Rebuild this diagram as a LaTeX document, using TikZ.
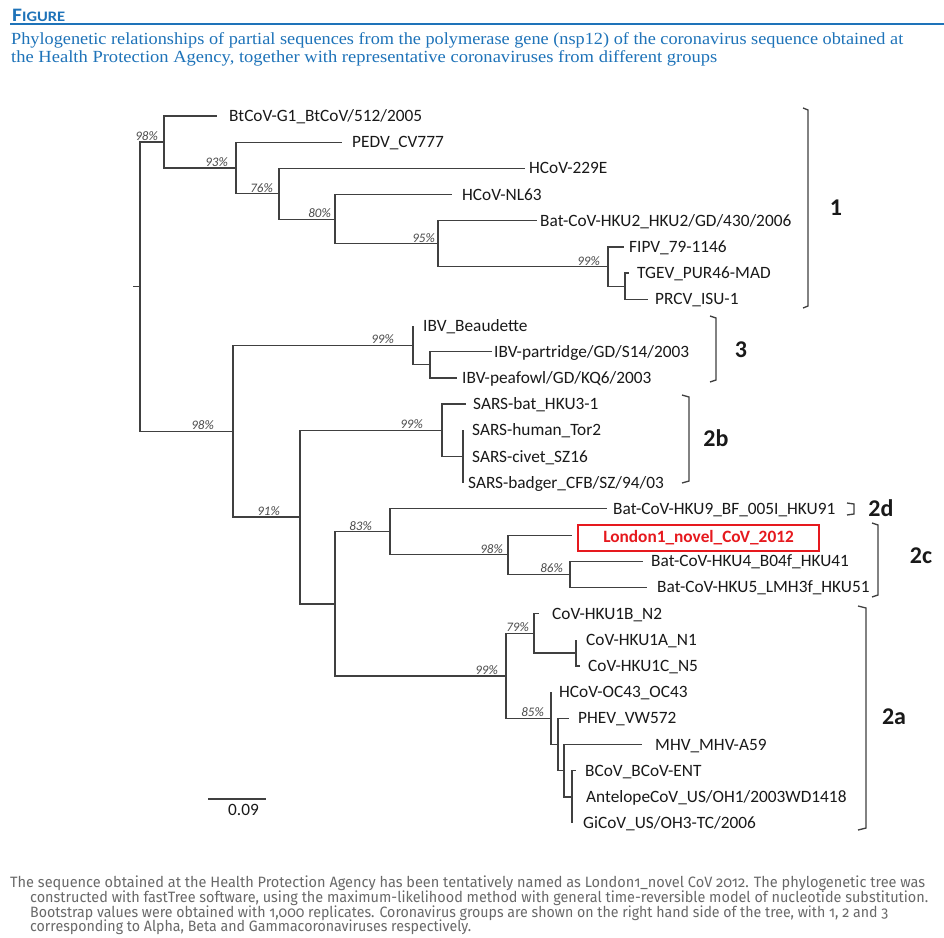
\documentclass[tikz,border=0pt]{standalone}
\usepackage{fontspec}
\usepackage{graphicx}
\setmainfont{Carlito}
\newfontfamily\capfont{Liberation Serif}
\newfontfamily\footfont[Numbers=OldStyle]{Fira Sans}
\definecolor{figblue}{RGB}{30,115,185}
\definecolor{treeline}{RGB}{64,64,64}
\definecolor{txt}{RGB}{25,25,25}
\definecolor{footgray}{RGB}{105,105,105}
\definecolor{novred}{RGB}{230,25,30}
\begin{document}
\begin{tikzpicture}[x=1pt,y=-1pt,
  br/.style={draw=treeline, line width=1.25pt},
  lf/.style={anchor=west, inner sep=0pt, text height=11pt, text depth=0pt, font=\fontsize{17.3}{20}\selectfont, text=txt},
  bs/.style={anchor=base east, inner sep=0pt, font=\fontsize{13}{15}\selectfont\itshape, text=black!70},
  grp/.style={inner sep=0pt, font=\fontsize{24}{28}\selectfont\bfseries, text=txt},
  brk/.style={draw=black!75, line width=1.3pt, line join=miter},
  hdr/.style={anchor=base west, inner sep=0pt, text=figblue},
  ftr/.style={anchor=base west, inner sep=0pt, text=footgray}]
\useasboundingbox[fill=white] (0,0) rectangle (944,937);

% ---------- header ----------
\node[hdr] (hd) at (12,21) {\resizebox{53pt}{\height}{\bfseries\fontsize{19}{22}\selectfont F\fontsize{14.5}{17}\selectfont IGURE}};
\coordinate (hl1) at (10,23.8);
\coordinate (hl2) at (944,23.8);
\draw[figblue, line width=1.6pt] (hl1) -- (hl2);
\node[hdr] (c1) at (11,44) {\resizebox{892pt}{\height}{\capfont\fontsize{17}{20}\selectfont Phylogenetic relationships of partial sequences from the polymerase gene (nsp12) of the coronavirus sequence obtained at}};
\node[hdr] (c2) at (11,62.5) {\resizebox{706pt}{\height}{\capfont\fontsize{17}{20}\selectfont the Health Protection Agency, together with representative coronaviruses from different groups}};

% ---------- internal nodes ----------
\coordinate (root) at (140,286.6);
\coordinate (rt) at (133,286.6);
\coordinate (n1) at (164,142.0);
\coordinate (n2) at (236,168.0);
\coordinate (n3) at (279,193.8);
\coordinate (n4) at (335,219.2);
\coordinate (n5) at (438,243.7);
\coordinate (n6) at (608,266.6);
\coordinate (n7) at (625,286.2);
\coordinate (m1) at (233,431.2);
\coordinate (m2) at (413,345.2);
\coordinate (i2) at (430,364.8);
\coordinate (m3) at (300,517.1);
\coordinate (s1) at (442,430.3);
\coordinate (s2) at (463,456.5);
\coordinate (m4) at (335,603.9);
\coordinate (k1) at (390,531.8);
\coordinate (k2) at (508,554.7);
\coordinate (k3) at (570,574.3);
\coordinate (a1) at (506,675.9);
\coordinate (a2) at (534,633.3);
\coordinate (a3) at (576,652.9);
\coordinate (a4) at (551,718.4);
\coordinate (a5) at (558,744.6);
\coordinate (a6) at (564,770.8);
\coordinate (a7) at (572,797.0);

% ---------- leaf ends ----------
\coordinate (e0) at (217,116.0);
\coordinate (e1) at (342,142.2);
\coordinate (e2) at (525,168.4);
\coordinate (e3) at (452,194.6);
\coordinate (e4) at (537,220.8);
\coordinate (e5) at (624,246.9);
\coordinate (e6) at (629,273.1);
\coordinate (e7) at (648,299.3);
\coordinate (e8) at (413,325.5);
\coordinate (e9) at (492,351.7);
\coordinate (e10) at (457,377.9);
\coordinate (e11) at (466,404.1);
\coordinate (e12) at (463,430.3);
\coordinate (e13) at (463,456.5);
\coordinate (e14) at (463,482.7);
\coordinate (e15) at (607,508.8);
\coordinate (e16) at (572,535.8);
\coordinate (e17) at (643,561.2);
\coordinate (e18) at (647,587.4);
\coordinate (e19) at (539,613.6);
\coordinate (e20) at (576,639.8);
\coordinate (e21) at (580,666.0);
\coordinate (e22) at (551,692.2);
\coordinate (e23) at (569,718.4);
\coordinate (e24) at (642,744.6);
\coordinate (e25) at (576,770.8);
\coordinate (e26) at (572,796.9);
\coordinate (e27) at (572,823.1);

% ---------- branches ----------
\draw[br] (rt) -- (root);
\draw[br] (root) |- (n1);
\draw[br] (root) |- (m1);
\draw[br] (n1) |- (e0);  \draw[br] (n1) |- (n2);
\draw[br] (n2) |- (e1);  \draw[br] (n2) |- (n3);
\draw[br] (n3) |- (e2);  \draw[br] (n3) |- (n4);
\draw[br] (n4) |- (e3);  \draw[br] (n4) |- (n5);
\draw[br] (n5) |- (e4);  \draw[br] (n5) |- (n6);
\draw[br] (n6) |- (e5);  \draw[br] (n6) |- (n7);
\draw[br] (n7) |- (e6);  \draw[br] (n7) |- (e7);
\draw[br] (m1) |- (m2);  \draw[br] (m1) |- (m3);
\draw[br] (m2) |- (e8);  \draw[br] (m2) |- (i2);
\draw[br] (i2) |- (e9);  \draw[br] (i2) |- (e10);
\draw[br] (m3) |- (s1);  \draw[br] (m3) |- (m4);
\draw[br] (s1) |- (e11); \draw[br] (s1) |- (s2);
\draw[br] (s2) |- (e12); \draw[br] (s2) |- (e14);
\draw[br] (m4) |- (k1);  \draw[br] (m4) |- (a1);
\draw[br] (k1) |- (e15); \draw[br] (k1) |- (k2);
\draw[br] (k2) |- (e16); \draw[br] (k2) |- (k3);
\draw[br] (k3) |- (e17); \draw[br] (k3) |- (e18);
\draw[br] (a1) |- (a2);  \draw[br] (a1) |- (a4);
\draw[br] (a2) |- (e19); \draw[br] (a2) |- (a3);
\draw[br] (a3) |- (e20); \draw[br] (a3) |- (e21);
\draw[br] (a4) |- (e22); \draw[br] (a4) |- (a5);
\draw[br] (a5) |- (e23); \draw[br] (a5) |- (a6);
\draw[br] (a6) |- (e24); \draw[br] (a6) |- (a7);
\draw[br] (a7) |- (e25); \draw[br] (a7) |- (e27);

% ---------- leaf labels ----------
\node[lf] (t0) at (229,116.0) {BtCoV-G1\_BtCoV/512/2005};
\node[lf] (t1) at (352,142.2) {PEDV\_CV777};
\node[lf] (t2) at (529,168.4) {HCoV-229E};
\node[lf] (t3) at (462,194.6) {HCoV-NL63};
\node[lf] (t4) at (540,220.8) {Bat-CoV-HKU2\_HKU2/GD/430/2006};
\node[lf] (t5) at (629,246.9) {FIPV\_79-1146};
\node[lf] (t6) at (637,273.1) {TGEV\_PUR46-MAD};
\node[lf] (t7) at (655,299.3) {PRCV\_ISU-1};
\node[lf] (t8) at (423,325.5) {IBV\_Beaudette};
\node[lf] (t9) at (494,351.7) {IBV-partridge/GD/S14/2003};
\node[lf] (t10) at (462,377.9) {IBV-peafowl/GD/KQ6/2003};
\node[lf] (t11) at (473,404.1) {SARS-bat\_HKU3-1};
\node[lf] (t12) at (472,430.3) {SARS-human\_Tor2};
\node[lf] (t13) at (472,456.5) {SARS-civet\_SZ16};
\node[lf] (t14) at (468,482.7) {SARS-badger\_CFB/SZ/94/03};
\node[lf] (t15) at (613,508.8) {Bat-CoV-HKU9\_BF\_005I\_HKU91};
\node[draw=novred, line width=2pt, minimum width=241pt, minimum height=26pt, inner sep=0pt,
      font=\fontsize{17.3}{20}\selectfont\bfseries, text=novred, anchor=west] (t16) at (577,537.5) {London1\_novel\_CoV\_2012};
\node[lf] (t17) at (651,561.2) {Bat-CoV-HKU4\_B04f\_HKU41};
\node[lf] (t18) at (657,587.4) {Bat-CoV-HKU5\_LMH3f\_HKU51};
\node[lf] (t19) at (552,613.6) {CoV-HKU1B\_N2};
\node[lf] (t20) at (586,639.8) {CoV-HKU1A\_N1};
\node[lf] (t21) at (588,666.0) {CoV-HKU1C\_N5};
\node[lf] (t22) at (559,692.2) {HCoV-OC43\_OC43};
\node[lf] (t23) at (578,718.4) {PHEV\_VW572};
\node[lf] (t24) at (655,744.6) {MHV\_MHV-A59};
\node[lf] (t25) at (585,770.8) {BCoV\_BCoV-ENT};
\node[lf] (t26) at (586,796.9) {AntelopeCoV\_US/OH1/2003WD1418};
\node[lf] (t27) at (583,823.1) {GiCoV\_US/OH3-TC/2006};

% ---------- bootstrap values ----------
\node[bs] (b1) at (158,140.5) {98\%};
\node[bs] (b2) at (228,166.5) {93\%};
\node[bs] (b3) at (273,192.3) {76\%};
\node[bs] (b4) at (331,217.7) {80\%};
\node[bs] (b5) at (435,242.2) {95\%};
\node[bs] (b6) at (600,265.1) {99\%};
\node[bs] (b7) at (214,429.7) {98\%};
\node[bs] (b8) at (394,343.7) {99\%};
\node[bs] (b9) at (280,515.6) {91\%};
\node[bs] (b10) at (423,428.8) {99\%};
\node[bs] (b11) at (372,530.3) {83\%};
\node[bs] (b12) at (503,553.2) {98\%};
\node[bs] (b13) at (563,572.8) {86\%};
\node[bs] (b14) at (498,674.4) {99\%};
\node[bs] (b15) at (529,631.8) {79\%};
\node[bs] (b16) at (544,716.9) {85\%};

% ---------- scale bar ----------
\coordinate (sb1) at (208,799);
\coordinate (sb2) at (266,799);
\draw[br] (sb1) -- (sb2);
\node[lf] (sbl) at (228,810) {0.09};

% ---------- group brackets ----------
\draw[brk] (803,108) -- (808,110) -- (808,306) -- (803,308);
\draw[brk] (710,316) -- (716,318) -- (716,380) -- (710,382);
\draw[brk] (682,395) -- (689,397) -- (689,481) -- (682,483);
\draw[brk] (847,503) -- (854,504) -- (854,514) -- (847,515);
\draw[brk] (872,523) -- (878,525) -- (878,595) -- (872,597);
\draw[brk] (858,606) -- (866,608) -- (866,828) -- (858,830);
\node[grp] (g1) at (836,208) {1};
\node[grp] (g3) at (741,350) {3};
\node[grp] (g2b) at (716,438) {2b};
\node[grp] (g2d) at (881,508) {2d};
\node[grp] (g2c) at (921,556) {2c};
\node[grp] (g2a) at (894,717) {2a};

% ---------- footnote ----------
\node[ftr] (f1) at (10,887) {\resizebox{915pt}{\height}{\footfont\fontsize{15}{17}\selectfont The sequence obtained at the Health Protection Agency has been tentatively named as London1\_novel CoV 2012. The phylogenetic tree was}};
\node[ftr] (f2) at (30,902) {\resizebox{898pt}{\height}{\footfont\fontsize{15}{17}\selectfont constructed with fastTree software, using the maximum-likelihood method with general time-reversible model of nucleotide substitution.}};
\node[ftr] (f3) at (30,917) {\resizebox{858pt}{\height}{\footfont\fontsize{15}{17}\selectfont Bootstrap values were obtained with 1,000 replicates. Coronavirus groups are shown on the right hand side of the tree, with 1, 2 and 3}};
\node[ftr] (f4) at (30,931) {\resizebox{441pt}{\height}{\footfont\fontsize{15}{17}\selectfont corresponding to Alpha, Beta and Gammacoronaviruses respectively.}};
\end{tikzpicture}
\end{document}
